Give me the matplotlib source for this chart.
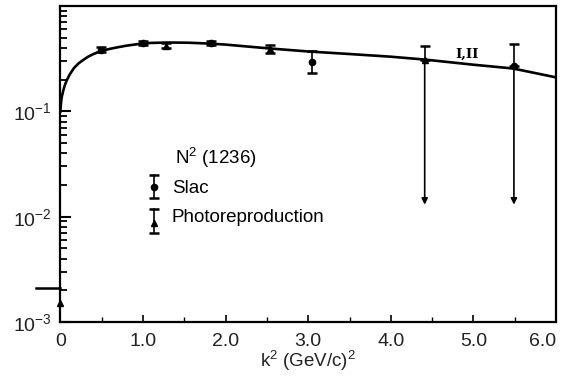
import matplotlib
matplotlib.use("Agg")
import matplotlib.pyplot as plt
from matplotlib.ticker import MultipleLocator, LogLocator, NullFormatter

plt.rcParams['font.family'] = ['Liberation Sans', 'DejaVu Sans']
plt.rcParams['mathtext.fontset'] = 'custom'
plt.rcParams['mathtext.rm'] = 'Liberation Sans'
plt.rcParams['mathtext.it'] = 'Liberation Sans:italic'
plt.rcParams['mathtext.bf'] = 'Liberation Sans:bold'

# theory curve
curve_k2 = [0.0, 0.005, 0.015, 0.035, 0.055, 0.076, 0.11, 0.165, 0.22, 0.27, 0.33,
            0.4, 0.5, 0.6, 0.69, 0.8, 0.96, 1.1, 1.3, 1.55, 1.79, 2.0, 2.5, 3.0,
            3.5, 4.0, 4.41, 5.0, 5.48, 6.0]
curve_val = [0.1, 0.115, 0.135, 0.158, 0.178, 0.196, 0.222, 0.258, 0.285, 0.305, 0.328,
             0.35, 0.375, 0.392, 0.405, 0.42, 0.437, 0.446, 0.45, 0.448, 0.44, 0.43,
             0.397, 0.37, 0.35, 0.33, 0.31, 0.277, 0.255, 0.21]

# Slac points
slac_k2 = [0.49, 1.0, 1.82, 3.05, 5.49]
slac_val = [0.385, 0.447, 0.447, 0.296, 0.27]
slac_lo = [0.365, 0.43, 0.43, 0.23, 0.27]
slac_hi = [0.405, 0.465, 0.465, 0.37, 0.44]

# photoreproduction points
photo_k2 = [1.28, 2.54, 4.41]
photo_val = [0.42, 0.39, 0.31]
photo_lo = [0.40, 0.355, 0.31]
photo_hi = [0.445, 0.43, 0.42]

# points at k2 = 0
zero_val = 1.5e-3
zero_hi = 2.1e-3

# upper limits drawn as arrows down
limit_k2 = [4.41, 5.49]
limit_from = [0.31, 0.27]
limit_to = [0.013, 0.013]

fig = plt.figure(figsize=(5.73, 3.86), dpi=100)
ax = fig.add_axes([0.1054, 0.1658, 0.865, 0.8187])

ax.plot(curve_k2, curve_val, color='black', lw=1.9, zorder=3)

def draw_points(x, v, lo, hi, marker, ms):
    yerr = [[a - b for a, b in zip(v, lo)], [b - a for a, b in zip(v, hi)]]
    ax.errorbar(x, v, yerr=yerr, fmt=marker, color='black', ms=ms, lw=1.2,
                capsize=3.5, capthick=1.8, zorder=4)

draw_points(slac_k2, slac_val, slac_lo, slac_hi, 'o', 4.5)
draw_points(photo_k2, photo_val, photo_lo, photo_hi, '^', 5)

for x, a, b in zip(limit_k2, limit_from, limit_to):
    ax.annotate('', xy=(x, b), xytext=(x, a),
                arrowprops=dict(arrowstyle='-|>', lw=1.2, color='black',
                                mutation_scale=9, shrinkA=0, shrinkB=0))

ax.plot([0.0], [zero_val], marker='^', color='black', ms=5, clip_on=False, zorder=5)
ax.plot([-0.3, 0.0], [zero_hi, zero_hi], color='black', lw=1.8, clip_on=False)

ax.text(4.92, 0.35, 'I,II', family='DejaVu Serif', weight='bold', fontsize=9.5,
        ha='center', va='center')

# legend drawn by hand
tr = ax.transAxes
ax.text(0.231, 0.519, 'N$^2$ (1236)', transform=tr, fontsize=13.5, va='center')
ax.text(0.225, 0.421, 'Slac', transform=tr, fontsize=13.5, va='center')
ax.text(0.225, 0.332, 'Photoreproduction', transform=tr, fontsize=13.5, va='center')
ax.plot([0.189, 0.189], [0.392, 0.465], color='black', lw=1.2, transform=tr)
ax.plot([0.189, 0.189], [0.392, 0.465], ls='none', marker='_', ms=7, mew=1.8,
        color='black', transform=tr)
ax.plot([0.189], [0.427], marker='o', ms=4.5, color='black', transform=tr)
ax.plot([0.189, 0.189], [0.282, 0.358], color='black', lw=1.2, transform=tr)
ax.plot([0.189, 0.189], [0.282, 0.358], ls='none', marker='_', ms=7, mew=1.8,
        color='black', transform=tr)
ax.plot([0.189], [0.313], marker='^', ms=5, color='black', transform=tr)

ax.set_yscale('log')
ax.set_xlim(0, 6.0)
ax.set_ylim(1e-3, 1.0)

ax.set_xticks([0, 1, 2, 3, 4, 5, 6])
ax.set_xticklabels(['0', '1.0', '2.0', '3.0', '4.0', '5.0', '6.0'])
ax.xaxis.set_minor_locator(MultipleLocator(0.5))
ax.set_yticks([1e-3, 1e-2, 1e-1])
ax.set_yticklabels(['$10^{-3}$', '$10^{-2}$', '$10^{-1}$'])
ax.yaxis.set_minor_locator(LogLocator(base=10, subs=range(2, 10)))
ax.yaxis.set_minor_formatter(NullFormatter())

ax.tick_params(axis='both', which='both', direction='in', colors='black',
               labelcolor='#222222', labelsize=14)
ax.tick_params(axis='x', which='major', length=5, width=1.2, pad=8)
ax.tick_params(axis='x', which='minor', length=3.5, width=1.0)
ax.tick_params(axis='y', which='major', length=8, width=1.5, pad=6)
ax.tick_params(axis='y', which='minor', length=5, width=1.3)
ax.get_xticklabels()[-1].set_horizontalalignment('right')

for s in ax.spines.values():
    s.set_linewidth(1.6)

ax.set_xlabel('k$^2$ (GeV/c)$^2$', fontsize=13.5, color='#222222', labelpad=-1)

fig.savefig('out.png', dpi=100)
